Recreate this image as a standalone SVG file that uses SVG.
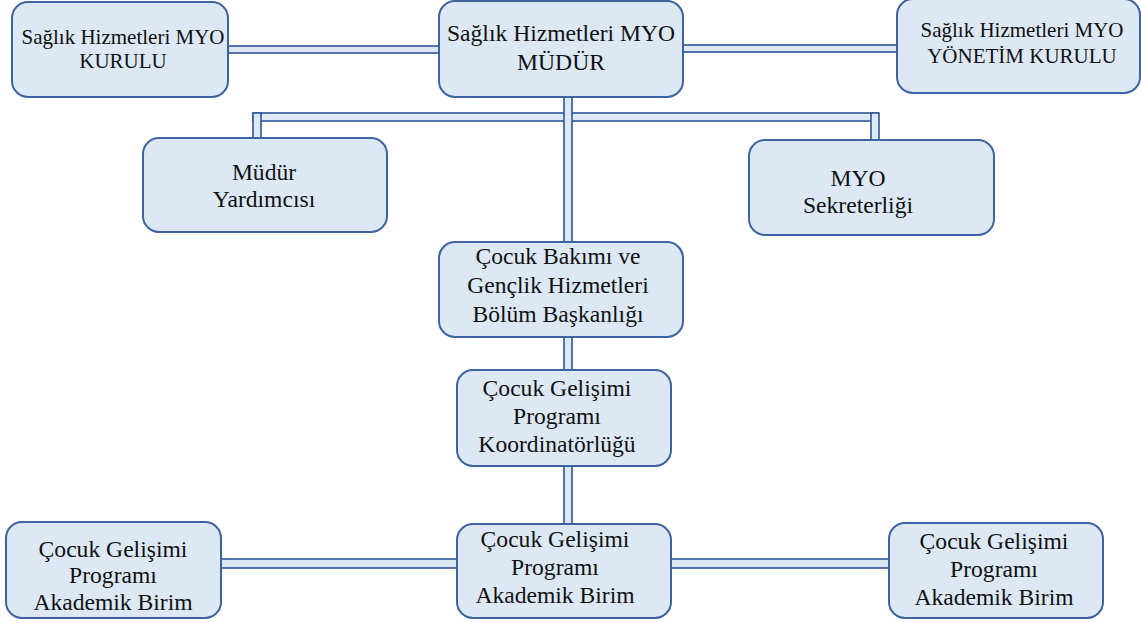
<svg xmlns="http://www.w3.org/2000/svg" width="1141" height="623" viewBox="0 0 1141 623">
<style>
.node rect{fill:#DDE8F5;stroke:#3F62A0;stroke-width:2}
.conn rect{fill:#DDE8F5;stroke:#2F5597;stroke-width:1.6}
.node text{fill:#111;text-anchor:middle}
.s{font-size:21px}
.m{font-size:23.6px}
</style>
<rect width="1141" height="623" fill="#ffffff"/>
<g id="connectors" class="conn">
<rect x="226" y="46" width="215" height="7"/>
<rect x="681" y="45" width="218" height="7"/>
<rect x="253" y="113" width="625" height="8"/>
<rect x="564" y="95" width="8" height="149"/>
<rect x="253" y="113" width="8" height="26"/>
<rect x="871" y="113" width="8" height="28"/>
<rect x="564" y="335" width="8" height="37"/>
<rect x="564" y="464" width="8" height="61"/>
<rect x="220" y="559" width="239" height="9"/>
<rect x="669" y="559" width="222" height="9"/>
</g>
<g font-family="Liberation Serif, Tinos, DejaVu Serif, serif">
<g id="myo-kurulu" class="node">
<rect x="12" y="2" width="216" height="95" rx="16"/>
<text class="s" x="123" y="44">Sağlık Hizmetleri MYO</text>
<text class="s" x="123" y="68">KURULU</text>
</g>
<g id="myo-mudur" class="node">
<rect x="439" y="1" width="244" height="96" rx="16"/>
<text class="m" x="561" y="41">Sağlık Hizmetleri MYO</text>
<text class="m" x="561" y="70">MÜDÜR</text>
</g>
<g id="yonetim-kurulu" class="node">
<rect x="897" y="-1" width="243" height="94" rx="16"/>
<text class="s" x="1022" y="37">Sağlık Hizmetleri MYO</text>
<text class="s" x="1022" y="63">YÖNETİM KURULU</text>
</g>
<g id="mudur-yardimcisi" class="node">
<rect x="143" y="138" width="244" height="94" rx="16"/>
<text class="m" x="264" y="180">Müdür</text>
<text class="m" x="264" y="207">Yardımcısı</text>
</g>
<g id="myo-sekreterligi" class="node">
<rect x="749" y="140" width="245" height="95" rx="16"/>
<text class="m" x="858" y="186">MYO</text>
<text class="m" x="858" y="213">Sekreterliği</text>
</g>
<g id="bolum-baskanligi" class="node">
<rect x="439" y="242" width="244" height="95" rx="16"/>
<text class="m" x="558" y="264">Çocuk Bakımı ve</text>
<text class="m" x="558" y="293">Gençlik Hizmetleri</text>
<text class="m" x="558" y="322">Bölüm Başkanlığı</text>
</g>
<g id="koordinatorlugu" class="node">
<rect x="457" y="370" width="214" height="96" rx="16"/>
<text class="m" x="557" y="396">Çocuk Gelişimi</text>
<text class="m" x="557" y="424">Programı</text>
<text class="m" x="557" y="452">Koordinatörlüğü</text>
</g>
<g id="akademik-birim-left" class="node">
<rect x="6" y="522" width="215" height="96" rx="16"/>
<text class="m" x="113" y="557">Çocuk Gelişimi</text>
<text class="m" x="113" y="583">Programı</text>
<text class="m" x="113" y="610">Akademik Birim</text>
</g>
<g id="akademik-birim-center" class="node">
<rect x="457" y="524" width="214" height="94" rx="16"/>
<text class="m" x="555" y="547">Çocuk Gelişimi</text>
<text class="m" x="555" y="575">Programı</text>
<text class="m" x="555" y="603">Akademik Birim</text>
</g>
<g id="akademik-birim-right" class="node">
<rect x="889" y="523" width="214" height="95" rx="16"/>
<text class="m" x="994" y="549">Çocuk Gelişimi</text>
<text class="m" x="994" y="577">Programı</text>
<text class="m" x="994" y="605">Akademik Birim</text>
</g>
</g>
</svg>
